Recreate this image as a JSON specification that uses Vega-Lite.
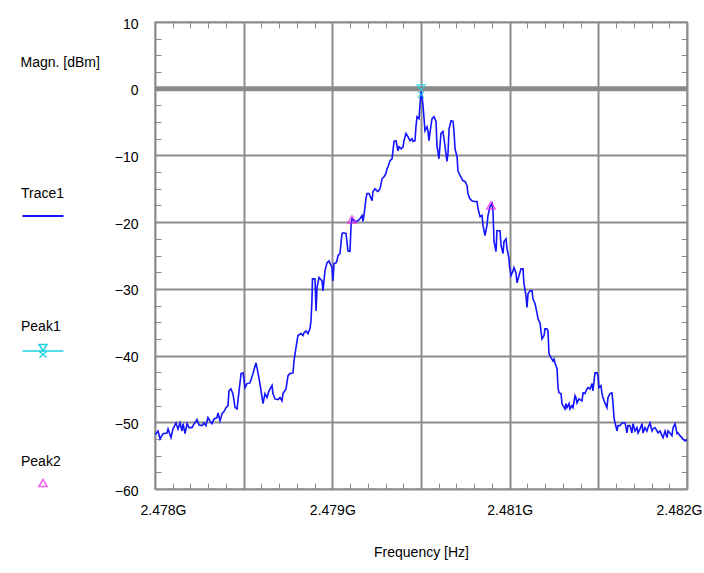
{
  "$schema": "https://vega.github.io/schema/vega-lite/v6.json",
  "width": 532,
  "height": 467,
  "autosize": {"type": "none"},
  "padding": {"left": 155, "top": 22, "right": 17, "bottom": 84},
  "background": "white",
  "config": {
    "view": {"stroke": "#a8a8a8", "strokeWidth": 1.5},
    "axis": {"labelFont": "Liberation Sans", "labelFontSize": 14, "labelColor": "#000000", "titleFont": "Liberation Sans", "titleFontSize": 14, "titleFontWeight": "normal", "titleColor": "#000000"},
    "legend": {"titleFont": "Liberation Sans", "titleFontSize": 14, "titleFontWeight": "normal", "titleColor": "#000000", "labelFontSize": 1, "padding": 0}
  },
  "datasets": {
    "trace": [
      {"freq":2478.000,"dBm":-51.8},{"freq":2478.008,"dBm":-51.7},{"freq":2478.023,"dBm":-51.3},{"freq":2478.038,"dBm":-52.5},{"freq":2478.060,"dBm":-51.7},{"freq":2478.090,"dBm":-51.6},{"freq":2478.098,"dBm":-51.0},{"freq":2478.120,"dBm":-52.3},{"freq":2478.135,"dBm":-51.0},{"freq":2478.158,"dBm":-50.1},{"freq":2478.173,"dBm":-51.0},{"freq":2478.188,"dBm":-50.1},{"freq":2478.203,"dBm":-51.3},{"freq":2478.211,"dBm":-50.2},{"freq":2478.226,"dBm":-51.7},{"freq":2478.241,"dBm":-50.2},{"freq":2478.256,"dBm":-50.8},{"freq":2478.278,"dBm":-50.8},{"freq":2478.286,"dBm":-50.5},{"freq":2478.316,"dBm":-49.6},{"freq":2478.331,"dBm":-50.4},{"freq":2478.353,"dBm":-50.5},{"freq":2478.368,"dBm":-50.1},{"freq":2478.383,"dBm":-50.5},{"freq":2478.398,"dBm":-49.3},{"freq":2478.414,"dBm":-49.8},{"freq":2478.429,"dBm":-50.2},{"freq":2478.444,"dBm":-49.5},{"freq":2478.466,"dBm":-49.3},{"freq":2478.474,"dBm":-48.6},{"freq":2478.489,"dBm":-49.8},{"freq":2478.504,"dBm":-48.7},{"freq":2478.519,"dBm":-48.4},{"freq":2478.534,"dBm":-47.8},{"freq":2478.549,"dBm":-47.5},{"freq":2478.556,"dBm":-45.3},{"freq":2478.571,"dBm":-45.0},{"freq":2478.586,"dBm":-45.7},{"freq":2478.602,"dBm":-47.8},{"freq":2478.617,"dBm":-48.0},{"freq":2478.632,"dBm":-45.3},{"freq":2478.647,"dBm":-42.7},{"freq":2478.662,"dBm":-42.6},{"freq":2478.677,"dBm":-44.8},{"freq":2478.692,"dBm":-44.2},{"freq":2478.714,"dBm":-44.1},{"freq":2478.737,"dBm":-42.7},{"freq":2478.759,"dBm":-41.1},{"freq":2478.767,"dBm":-41.8},{"freq":2478.789,"dBm":-44.2},{"freq":2478.812,"dBm":-47.2},{"freq":2478.827,"dBm":-45.7},{"freq":2478.842,"dBm":-46.3},{"freq":2478.857,"dBm":-45.3},{"freq":2478.880,"dBm":-44.5},{"freq":2478.887,"dBm":-45.7},{"freq":2478.902,"dBm":-46.5},{"freq":2478.925,"dBm":-46.6},{"freq":2478.940,"dBm":-46.3},{"freq":2478.955,"dBm":-46.8},{"freq":2478.962,"dBm":-45.7},{"freq":2478.985,"dBm":-45.0},{"freq":2479.000,"dBm":-43.0},{"freq":2479.015,"dBm":-42.7},{"freq":2479.038,"dBm":-42.6},{"freq":2479.045,"dBm":-40.8},{"freq":2479.060,"dBm":-38.8},{"freq":2479.068,"dBm":-37.8},{"freq":2479.075,"dBm":-37.0},{"freq":2479.098,"dBm":-36.7},{"freq":2479.113,"dBm":-37.0},{"freq":2479.120,"dBm":-36.6},{"freq":2479.135,"dBm":-36.3},{"freq":2479.150,"dBm":-36.7},{"freq":2479.165,"dBm":-36.0},{"freq":2479.173,"dBm":-34.8},{"freq":2479.180,"dBm":-31.8},{"freq":2479.184,"dBm":-28.5},{"freq":2479.203,"dBm":-28.5},{"freq":2479.211,"dBm":-33.3},{"freq":2479.218,"dBm":-29.8},{"freq":2479.233,"dBm":-28.3},{"freq":2479.256,"dBm":-28.8},{"freq":2479.263,"dBm":-30.3},{"freq":2479.278,"dBm":-27.3},{"freq":2479.293,"dBm":-26.1},{"freq":2479.308,"dBm":-25.8},{"freq":2479.331,"dBm":-26.8},{"freq":2479.338,"dBm":-28.8},{"freq":2479.346,"dBm":-26.2},{"freq":2479.361,"dBm":-26.1},{"freq":2479.368,"dBm":-25.8},{"freq":2479.376,"dBm":-25.0},{"freq":2479.391,"dBm":-24.7},{"freq":2479.406,"dBm":-21.7},{"freq":2479.414,"dBm":-21.6},{"freq":2479.436,"dBm":-21.7},{"freq":2479.451,"dBm":-24.3},{"freq":2479.466,"dBm":-24.4},{"freq":2479.474,"dBm":-20.5},{"freq":2479.481,"dBm":-19.5},{"freq":2479.504,"dBm":-19.9},{"freq":2479.526,"dBm":-19.8},{"freq":2479.541,"dBm":-19.5},{"freq":2479.556,"dBm":-19.0},{"freq":2479.564,"dBm":-19.9},{"freq":2479.571,"dBm":-19.0},{"freq":2479.586,"dBm":-16.5},{"freq":2479.594,"dBm":-15.7},{"freq":2479.609,"dBm":-15.7},{"freq":2479.632,"dBm":-16.8},{"freq":2479.639,"dBm":-15.4},{"freq":2479.654,"dBm":-15.0},{"freq":2479.669,"dBm":-15.3},{"freq":2479.677,"dBm":-15.4},{"freq":2479.692,"dBm":-15.0},{"freq":2479.707,"dBm":-13.5},{"freq":2479.722,"dBm":-13.2},{"freq":2479.737,"dBm":-12.7},{"freq":2479.744,"dBm":-12.0},{"freq":2479.752,"dBm":-11.7},{"freq":2479.767,"dBm":-10.8},{"freq":2479.782,"dBm":-10.5},{"freq":2479.789,"dBm":-9.4},{"freq":2479.797,"dBm":-7.9},{"freq":2479.812,"dBm":-7.8},{"freq":2479.827,"dBm":-9.3},{"freq":2479.835,"dBm":-8.7},{"freq":2479.850,"dBm":-9.0},{"freq":2479.865,"dBm":-8.7},{"freq":2479.872,"dBm":-7.8},{"freq":2479.887,"dBm":-6.7},{"freq":2479.902,"dBm":-7.2},{"freq":2479.917,"dBm":-7.8},{"freq":2479.932,"dBm":-7.5},{"freq":2479.940,"dBm":-7.9},{"freq":2479.955,"dBm":-7.8},{"freq":2479.962,"dBm":-5.7},{"freq":2479.970,"dBm":-4.2},{"freq":2479.985,"dBm":-4.5},{"freq":2479.992,"dBm":-2.5},{"freq":2480.000,"dBm":-0.4},{"freq":2480.008,"dBm":-1.2},{"freq":2480.015,"dBm":-2.5},{"freq":2480.023,"dBm":-4.5},{"freq":2480.030,"dBm":-6.3},{"freq":2480.045,"dBm":-5.7},{"freq":2480.053,"dBm":-6.4},{"freq":2480.060,"dBm":-7.8},{"freq":2480.075,"dBm":-5.5},{"freq":2480.083,"dBm":-4.5},{"freq":2480.098,"dBm":-4.2},{"freq":2480.113,"dBm":-4.9},{"freq":2480.120,"dBm":-8.5},{"freq":2480.135,"dBm":-10.5},{"freq":2480.143,"dBm":-8.5},{"freq":2480.150,"dBm":-6.7},{"freq":2480.165,"dBm":-6.4},{"freq":2480.180,"dBm":-8.5},{"freq":2480.195,"dBm":-10.9},{"freq":2480.203,"dBm":-9.7},{"freq":2480.211,"dBm":-6.0},{"freq":2480.226,"dBm":-4.8},{"freq":2480.241,"dBm":-4.9},{"freq":2480.248,"dBm":-6.4},{"freq":2480.256,"dBm":-9.0},{"freq":2480.271,"dBm":-10.2},{"freq":2480.278,"dBm":-12.3},{"freq":2480.293,"dBm":-13.0},{"freq":2480.308,"dBm":-13.5},{"freq":2480.316,"dBm":-13.8},{"freq":2480.331,"dBm":-13.9},{"freq":2480.346,"dBm":-14.5},{"freq":2480.353,"dBm":-15.7},{"freq":2480.368,"dBm":-16.5},{"freq":2480.383,"dBm":-16.8},{"freq":2480.398,"dBm":-16.9},{"freq":2480.421,"dBm":-16.9},{"freq":2480.429,"dBm":-18.0},{"freq":2480.444,"dBm":-19.2},{"freq":2480.459,"dBm":-19.0},{"freq":2480.466,"dBm":-20.5},{"freq":2480.481,"dBm":-22.0},{"freq":2480.496,"dBm":-20.5},{"freq":2480.504,"dBm":-19.0},{"freq":2480.519,"dBm":-17.7},{"freq":2480.534,"dBm":-17.2},{"freq":2480.541,"dBm":-18.3},{"freq":2480.549,"dBm":-22.9},{"freq":2480.564,"dBm":-24.4},{"freq":2480.571,"dBm":-21.3},{"freq":2480.594,"dBm":-21.3},{"freq":2480.602,"dBm":-23.5},{"freq":2480.617,"dBm":-24.7},{"freq":2480.624,"dBm":-22.9},{"freq":2480.639,"dBm":-22.5},{"freq":2480.647,"dBm":-24.0},{"freq":2480.662,"dBm":-25.5},{"freq":2480.665,"dBm":-26.5},{"freq":2480.677,"dBm":-28.0},{"freq":2480.692,"dBm":-27.3},{"freq":2480.699,"dBm":-26.8},{"freq":2480.714,"dBm":-27.6},{"freq":2480.722,"dBm":-29.1},{"freq":2480.737,"dBm":-28.0},{"freq":2480.752,"dBm":-27.0},{"freq":2480.767,"dBm":-27.0},{"freq":2480.774,"dBm":-29.2},{"freq":2480.789,"dBm":-31.0},{"freq":2480.797,"dBm":-32.8},{"freq":2480.805,"dBm":-30.7},{"freq":2480.820,"dBm":-30.3},{"freq":2480.835,"dBm":-30.3},{"freq":2480.842,"dBm":-31.5},{"freq":2480.857,"dBm":-32.2},{"freq":2480.872,"dBm":-33.6},{"freq":2480.880,"dBm":-34.5},{"freq":2480.895,"dBm":-35.1},{"freq":2480.902,"dBm":-36.3},{"freq":2480.910,"dBm":-37.5},{"freq":2480.925,"dBm":-37.0},{"freq":2480.932,"dBm":-36.0},{"freq":2480.947,"dBm":-36.0},{"freq":2480.955,"dBm":-36.3},{"freq":2480.962,"dBm":-39.7},{"freq":2480.977,"dBm":-40.3},{"freq":2480.992,"dBm":-40.8},{"freq":2481.000,"dBm":-40.5},{"freq":2481.008,"dBm":-41.1},{"freq":2481.023,"dBm":-42.0},{"freq":2481.030,"dBm":-44.8},{"freq":2481.038,"dBm":-45.6},{"freq":2481.053,"dBm":-45.7},{"freq":2481.060,"dBm":-47.2},{"freq":2481.068,"dBm":-47.5},{"freq":2481.083,"dBm":-48.0},{"freq":2481.090,"dBm":-47.2},{"freq":2481.098,"dBm":-47.8},{"freq":2481.113,"dBm":-47.2},{"freq":2481.120,"dBm":-48.0},{"freq":2481.135,"dBm":-47.5},{"freq":2481.143,"dBm":-47.8},{"freq":2481.158,"dBm":-46.0},{"freq":2481.165,"dBm":-46.3},{"freq":2481.173,"dBm":-47.1},{"freq":2481.188,"dBm":-46.5},{"freq":2481.211,"dBm":-46.8},{"freq":2481.218,"dBm":-45.6},{"freq":2481.233,"dBm":-45.7},{"freq":2481.248,"dBm":-45.0},{"freq":2481.256,"dBm":-44.8},{"freq":2481.271,"dBm":-45.0},{"freq":2481.286,"dBm":-44.2},{"freq":2481.293,"dBm":-45.3},{"freq":2481.308,"dBm":-42.6},{"freq":2481.323,"dBm":-42.6},{"freq":2481.331,"dBm":-43.0},{"freq":2481.338,"dBm":-44.8},{"freq":2481.353,"dBm":-44.5},{"freq":2481.361,"dBm":-45.7},{"freq":2481.368,"dBm":-46.3},{"freq":2481.383,"dBm":-47.1},{"freq":2481.398,"dBm":-47.8},{"freq":2481.406,"dBm":-46.3},{"freq":2481.421,"dBm":-45.7},{"freq":2481.436,"dBm":-45.6},{"freq":2481.444,"dBm":-47.2},{"freq":2481.451,"dBm":-49.3},{"freq":2481.459,"dBm":-50.1},{"freq":2481.474,"dBm":-51.3},{"freq":2481.481,"dBm":-50.5},{"freq":2481.496,"dBm":-50.5},{"freq":2481.511,"dBm":-50.1},{"freq":2481.519,"dBm":-50.1},{"freq":2481.534,"dBm":-50.1},{"freq":2481.549,"dBm":-51.6},{"freq":2481.556,"dBm":-50.5},{"freq":2481.571,"dBm":-50.5},{"freq":2481.586,"dBm":-51.6},{"freq":2481.594,"dBm":-50.2},{"freq":2481.609,"dBm":-51.3},{"freq":2481.624,"dBm":-50.8},{"freq":2481.632,"dBm":-51.6},{"freq":2481.647,"dBm":-51.0},{"freq":2481.662,"dBm":-50.2},{"freq":2481.669,"dBm":-51.6},{"freq":2481.684,"dBm":-50.8},{"freq":2481.699,"dBm":-51.3},{"freq":2481.707,"dBm":-50.8},{"freq":2481.722,"dBm":-50.1},{"freq":2481.737,"dBm":-51.3},{"freq":2481.744,"dBm":-51.0},{"freq":2481.759,"dBm":-50.8},{"freq":2481.774,"dBm":-51.3},{"freq":2481.782,"dBm":-51.6},{"freq":2481.797,"dBm":-51.3},{"freq":2481.812,"dBm":-52.0},{"freq":2481.820,"dBm":-52.3},{"freq":2481.835,"dBm":-51.3},{"freq":2481.850,"dBm":-52.3},{"freq":2481.857,"dBm":-51.3},{"freq":2481.872,"dBm":-51.6},{"freq":2481.887,"dBm":-52.0},{"freq":2481.895,"dBm":-50.8},{"freq":2481.910,"dBm":-50.2},{"freq":2481.925,"dBm":-51.7},{"freq":2481.932,"dBm":-51.6},{"freq":2481.947,"dBm":-52.0},{"freq":2481.962,"dBm":-52.3},{"freq":2481.970,"dBm":-52.5},{"freq":2481.985,"dBm":-52.8},{"freq":2482.000,"dBm":-52.6}
    ],
    "peak1": [{"freq": 2480.0, "dBm": -0.3}],
    "peak2": [{"freq": 2479.481, "dBm": -19.6}, {"freq": 2480.526, "dBm": -17.5}]
  },
  "layer": [
    {
      "data": {"name": "peak1"},
      "mark": {"type": "rule", "color": "#8a8a8a", "strokeWidth": 5},
      "encoding": {
        "y": {"datum": 0, "type": "quantitative", "scale": {"domain": [-60, 10], "nice": false, "zero": false}, "axis": null}
      }
    },
    {
      "data": {"name": "trace"},
      "mark": {"type": "line", "strokeWidth": 1.6, "interpolate": "linear"},
      "encoding": {
        "x": {
          "field": "freq", "type": "quantitative",
          "scale": {"domain": [2478, 2482], "nice": false, "zero": false},
          "axis": {
            "orient": "bottom",
            "values": [2478, 2478.6667, 2479.3333, 2480, 2480.6667, 2481.3333, 2482],
            "grid": true, "gridColor": "#8c8c8c", "gridWidth": 2, "gridOpacity": 1,
            "ticks": false, "domain": false,
            "labelExpr": "round((datum.value - 2478) * 1.5) % 2 == 0 ? format(datum.value / 1000, '.3f') + 'G' : ''",
            "labelPadding": 14, "labelFlush": true, "labelFlushOffset": 15, "labelOverlap": false, "labelBound": false,
            "title": "Frequency [Hz]", "titleY": 63, "titleBaseline": "middle"
          }
        },
        "y": {
          "field": "dBm", "type": "quantitative",
          "scale": {"domain": [-60, 10], "nice": false, "zero": false},
          "axis": {
            "orient": "left",
            "values": [-60, -50, -40, -30, -20, -10, 0, 10],
            "grid": true, "gridColor": "#8c8c8c", "gridWidth": 2, "gridOpacity": 1,
            "ticks": false, "domain": false,
            "labelPadding": 17, "labelOffset": 2, "labelOverlap": false, "labelFlush": false,
            "title": "Magn. [dBm]", "titleAngle": 0, "titleAlign": "left", "titleX": -135, "titleY": 40, "titleBaseline": "middle"
          }
        },
        "color": {
          "datum": "Trace1",
          "scale": {"range": ["#1414ff"]},
          "legend": {
            "orient": "none", "legendX": -134, "legendY": 165,
            "title": "Trace1", "labelExpr": "''", "titlePadding": 9,
            "symbolType": "M-4.1,0L4.1,0", "symbolSize": 100, "symbolStrokeWidth": 2, "symbolOffset": 16
          }
        }
      }
    },
    {
      "data": {"name": "peak1"},
      "mark": {"type": "line", "strokeWidth": 1.5},
      "encoding": {
        "x": {
          "field": "freq", "type": "quantitative",
          "axis": {
            "orient": "bottom", "labels": false, "grid": false, "domain": false, "title": null,
            "tickSize": -6, "tickColor": "#8c8c8c", "tickWidth": 1,
            "values": [2478, 2478.1333, 2478.2667, 2478.4, 2478.5333, 2478.6667, 2478.8, 2478.9333, 2479.0667, 2479.2, 2479.3333, 2479.4667, 2479.6, 2479.7333, 2479.8667, 2480, 2480.1333, 2480.2667, 2480.4, 2480.5333, 2480.6667, 2480.8, 2480.9333, 2481.0667, 2481.2, 2481.3333, 2481.4667, 2481.6, 2481.7333, 2481.8667, 2482]
          }
        },
        "y": {
          "field": "dBm", "type": "quantitative",
          "axis": {
            "orient": "left", "labels": false, "grid": false, "domain": false, "title": null,
            "tickSize": -6, "tickColor": "#8c8c8c", "tickWidth": 1,
            "values": [-60, -57.5, -55, -52.5, -50, -47.5, -45, -42.5, -40, -37.5, -35, -32.5, -30, -27.5, -25, -22.5, -20, -17.5, -15, -12.5, -10, -7.5, -5, -2.5, 0, 2.5, 5, 7.5, 10]
          }
        },
        "color": {
          "datum": "Peak1",
          "scale": {"range": ["#1ed2e6"]},
          "legend": {
            "orient": "none", "legendX": -134, "legendY": 298,
            "title": "Peak1", "labelExpr": "''", "titlePadding": 11,
            "symbolType": "M-4.1,0L4.1,0M-0.8,-1.3L0.8,-1.3L0,0ZM-0.7,1.3L0.7,0.1M0.7,1.3L-0.7,0.1",
            "symbolSize": 100, "symbolStrokeWidth": 1.5, "symbolOffset": 16
          }
        }
      }
    },
    {
      "data": {"name": "peak1"},
      "mark": {"type": "point", "filled": false, "color": "#1ed2e6", "strokeWidth": 1.5, "size": 256, "shape": "M-0.5,-0.75L0.5,-0.75L0,0Z M-0.4,0.9L0.4,0.1 M0.4,0.9L-0.4,0.1"},
      "encoding": {
        "x": {"field": "freq", "type": "quantitative", "axis": null},
        "y": {"field": "dBm", "type": "quantitative", "axis": null}
      }
    },
    {
      "data": {"name": "peak2"},
      "mark": {"type": "point", "filled": false, "strokeWidth": 1.5, "size": 70, "shape": "triangle-up"},
      "encoding": {
        "x": {
          "field": "freq", "type": "quantitative",
          "axis": {
            "orient": "top", "labels": false, "grid": false, "domain": false, "title": null,
            "tickSize": -6, "tickColor": "#8c8c8c", "tickWidth": 1,
            "values": [2478, 2478.1333, 2478.2667, 2478.4, 2478.5333, 2478.6667, 2478.8, 2478.9333, 2479.0667, 2479.2, 2479.3333, 2479.4667, 2479.6, 2479.7333, 2479.8667, 2480, 2480.1333, 2480.2667, 2480.4, 2480.5333, 2480.6667, 2480.8, 2480.9333, 2481.0667, 2481.2, 2481.3333, 2481.4667, 2481.6, 2481.7333, 2481.8667, 2482]
          }
        },
        "y": {
          "field": "dBm", "type": "quantitative",
          "axis": {
            "orient": "right", "labels": false, "grid": false, "domain": false, "title": null,
            "tickSize": -6, "tickColor": "#8c8c8c", "tickWidth": 1,
            "values": [-60, -57.5, -55, -52.5, -50, -47.5, -45, -42.5, -40, -37.5, -35, -32.5, -30, -27.5, -25, -22.5, -20, -17.5, -15, -12.5, -10, -7.5, -5, -2.5, 0, 2.5, 5, 7.5, 10]
          }
        },
        "color": {
          "datum": "Peak2",
          "scale": {"range": ["#f020f0"]},
          "legend": {
            "orient": "none", "legendX": -134, "legendY": 433,
            "title": "Peak2", "labelExpr": "''", "titlePadding": 9,
            "symbolStrokeWidth": 1.5, "symbolSize": 70, "symbolOffset": 17
          }
        }
      }
    }
  ],
  "resolve": {
    "scale": {"color": "independent"},
    "axis": {"x": "independent", "y": "independent"}
  }
}
